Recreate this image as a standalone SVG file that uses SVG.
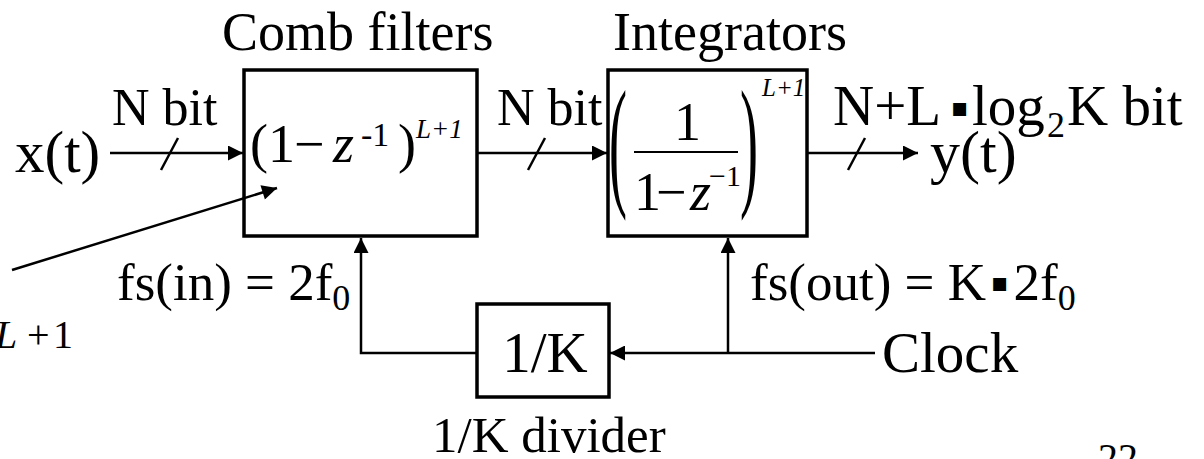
<svg xmlns="http://www.w3.org/2000/svg" width="1204" height="459" viewBox="0 0 1204 459">
<defs>
<style>
.t{font-family:"Liberation Serif","Times New Roman",serif;fill:#000}
.it{font-style:italic}
.box{fill:#fff;stroke:#000;stroke-width:3.5}
.ln{fill:none;stroke:#000;stroke-width:2.5}
.sq{font-family:"DejaVu Sans",sans-serif}
</style>
<marker id="ah" viewBox="0 0 10 10" refX="10" refY="5" markerWidth="16" markerHeight="15" markerUnits="userSpaceOnUse" orient="auto">
<path d="M0,0 L10,5 L0,10 z" fill="#000"/>
</marker>
</defs>
<rect width="1204" height="459" fill="#fff"/>

<g id="comb">
<rect class="box" x="244" y="70" width="233" height="166"/>
<text class="t" x="222" y="50" font-size="54">Comb filters</text>
<text class="t" font-size="54" y="162"><tspan x="250">(1</tspan><tspan x="294">−</tspan><tspan x="333" class="it">z</tspan></text>
<text class="t" font-size="34" x="361" y="146">-1</text>
<text class="t" font-size="54" x="398" y="162">)</text>
<text class="t it" font-size="27" x="416" y="138">L+1</text>
</g>

<g id="integrators">
<rect class="box" x="608" y="70" width="199" height="166"/>
<text class="t" x="613" y="50" font-size="54">Integrators</text>
<text class="t" font-size="54" transform="translate(609,190) scale(1,2.66)">(</text>
<text class="t" font-size="54" transform="translate(740,190) scale(1,2.66)">)</text>
<text class="t" font-size="54" x="674" y="140">1</text>
<line x1="634" y1="152" x2="738" y2="152" stroke="#000" stroke-width="2"/>
<text class="t" font-size="54" x="634" y="210">1</text>
<text class="t" font-size="54" x="656" y="210">−</text>
<text class="t it" font-size="54" x="690" y="210">z</text>
<text class="t" font-size="30" x="709" y="186">−1</text>
<text class="t it" font-size="25" x="762" y="96">L+1</text>
</g>

<g id="divider">
<rect class="box" x="477" y="304" width="132" height="93"/>
<text class="t" font-size="57" x="545" y="372" text-anchor="middle">1/K</text>
<text class="t" font-size="51" x="432" y="452">1/K divider</text>
</g>

<g id="labels">
<text class="t" font-size="59" x="15" y="172">x(t)</text>
<text class="t" font-size="52" x="112" y="125">N bit</text>
<text class="t" font-size="52" x="497" y="125">N bit</text>
<text class="t" font-size="57" y="125"><tspan x="833">N+L</tspan><tspan class="sq" font-size="26" x="951" dy="-9">▪</tspan><tspan x="972" dy="9">log</tspan><tspan font-size="36" x="1047" dy="12">2</tspan><tspan x="1067" dy="-12">K bit</tspan></text>
<text class="t" font-size="60" x="930" y="172">y(t)</text>
<text class="t" font-size="53" x="117" y="300">fs(in) = 2f<tspan font-size="36" dy="10">0</tspan></text>
<text class="t" font-size="53" x="750" y="300">fs(out) = K<tspan class="sq" font-size="26" dx="5" dy="-9">▪</tspan><tspan dx="5" dy="9">2f</tspan><tspan font-size="36" dy="10">0</tspan></text>
<text class="t" font-size="57" x="882" y="372">Clock</text>
<text class="t" font-size="40" y="348"><tspan class="it" x="-5">L</tspan><tspan x="27">+</tspan><tspan x="53">1</tspan></text>
<text class="t" font-size="40" x="1098" y="471">22</text>
</g>

<g id="connectors">
<line class="ln" x1="110" y1="153" x2="243" y2="153" marker-end="url(#ah)"/>
<line class="ln" x1="161" y1="170" x2="178" y2="138"/>
<line class="ln" x1="477" y1="153" x2="607" y2="153" marker-end="url(#ah)"/>
<line class="ln" x1="528" y1="170" x2="545" y2="138"/>
<line class="ln" x1="807" y1="153" x2="918" y2="153" marker-end="url(#ah)"/>
<line class="ln" x1="848" y1="170" x2="865" y2="138"/>
<line class="ln" x1="12" y1="270" x2="277" y2="188" marker-end="url(#ah)"/>
<polyline class="ln" points="477,353 361,353 361,238" marker-end="url(#ah)"/>
<line class="ln" x1="875" y1="353" x2="610" y2="353" marker-end="url(#ah)"/>
<line class="ln" x1="728" y1="353" x2="728" y2="238" marker-end="url(#ah)"/>
</g>
</svg>
